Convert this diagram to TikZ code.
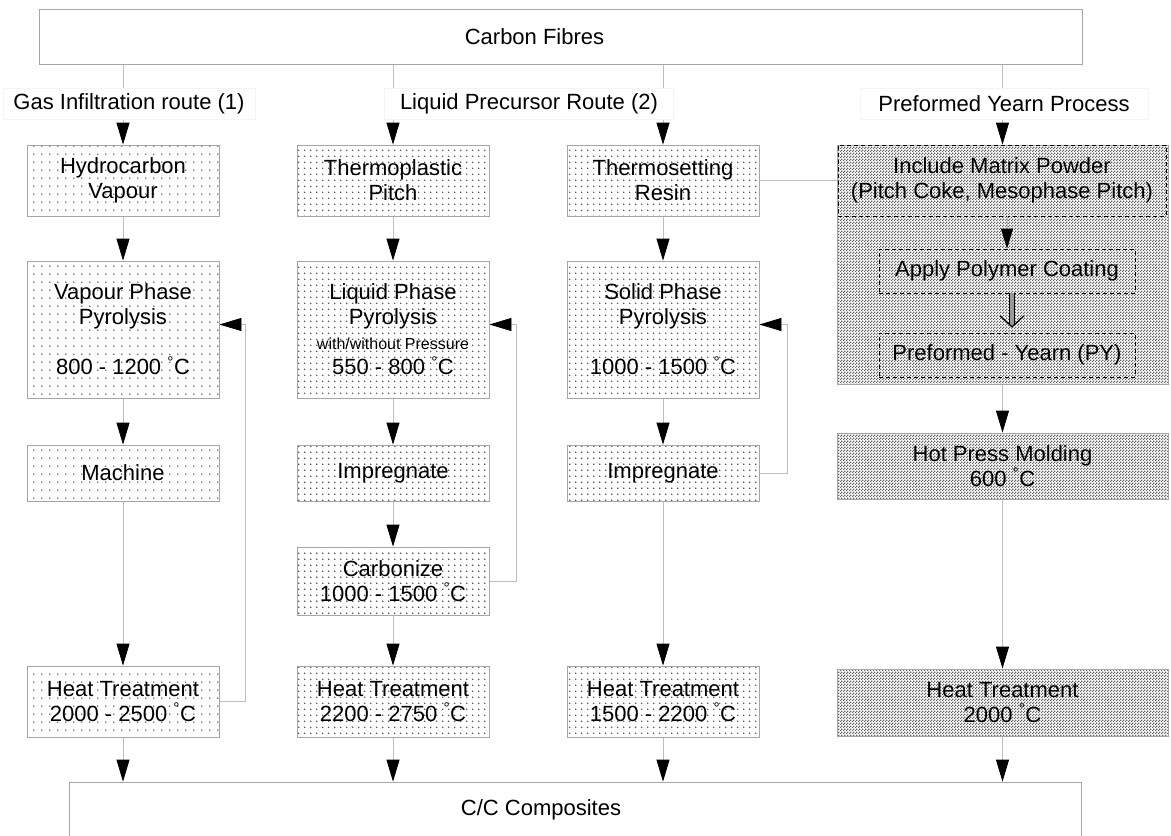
\documentclass[tikz,border=0pt]{standalone}
\usepackage{fontspec}
\setmainfont{Liberation Sans}
\usetikzlibrary{arrows.meta,backgrounds,patterns}
\definecolor{FlowLine}{HTML}{BEBEBE}
\definecolor{BoxEdge}{HTML}{A6A6A6}
\definecolor{DotGrey}{HTML}{505050}
\definecolor{MeshGrey}{HTML}{606060}
\newcommand{\mainsize}{\fontsize{22}{25}\selectfont}
\newcommand{\smallsize}{\fontsize{16}{18}\selectfont}
\newcommand{\degC}{\textsuperscript{°}C}
% dot fills for the three routes and the yarn process
\pgfdeclarepatternformonly{sparsedots}{\pgfqpoint{0pt}{0pt}}{\pgfqpoint{8pt}{8pt}}{\pgfqpoint{8pt}{8pt}}{%
  \pgfpathcircle{\pgfqpoint{2pt}{2pt}}{0.85pt}\pgfusepath{fill}}
\pgfdeclarepatternformonly{griddots}{\pgfqpoint{0pt}{0pt}}{\pgfqpoint{6.3pt}{6.3pt}}{\pgfqpoint{6.3pt}{6.3pt}}{%
  \pgfpathcircle{\pgfqpoint{3pt}{3pt}}{0.9pt}\pgfusepath{fill}}
\pgfdeclarepatternformonly{meshdots}{\pgfqpoint{0pt}{0pt}}{\pgfqpoint{3pt}{3pt}}{\pgfqpoint{3pt}{3pt}}{%
  \pgfpathrectangle{\pgfqpoint{0pt}{0pt}}{\pgfqpoint{1.5pt}{1.5pt}}
  \pgfpathrectangle{\pgfqpoint{1.5pt}{1.5pt}}{\pgfqpoint{1.5pt}{1.5pt}}\pgfusepath{fill}}
\tikzset{
  flowarrow/.style={-{Triangle[length=22pt,width=13pt,color=black]},line width=0.8pt,draw=FlowLine},
  minorarrow/.style={-{Triangle[length=20pt,width=12pt,color=black]},line width=0.8pt,draw=FlowLine},
  implyshaft/.style={double=black!40,double distance=4.5pt,line width=1pt,draw=black},
  implyhead/.style={line width=1.2pt,draw=black,-{Straight Barb[length=11pt,width=24pt]}},
  link/.style={line width=0.8pt,draw=FlowLine},
  bar/.style={draw=BoxEdge,line width=0.8pt,fill=white,inner sep=0pt},
  bartext/.style={font=\mainsize},
  routelabel/.style={fill=white,draw=black!4,line width=0.5pt,minimum height=31pt,inner sep=2pt,font=\mainsize},
  gasbox/.style={draw=BoxEdge,line width=0.8pt,pattern=sparsedots,pattern color=DotGrey,
    align=center,minimum width=192pt,inner sep=2pt,font=\mainsize},
  liquidbox/.style={gasbox,pattern=griddots},
  yarnbox/.style={draw=BoxEdge,line width=0.8pt,pattern=meshdots,pattern color=MeshGrey,
    align=center,minimum width=331pt,inner sep=2pt,font=\mainsize},
  yarnstage/.style={draw=black,line width=0.7pt,dash pattern=on 4pt off 3pt,
    align=center,inner sep=2pt,font=\mainsize}
}
\begin{document}
\begin{tikzpicture}[x=1pt,y=-1pt]
  \useasboundingbox (0,0) rectangle (1171,836);

  \node[bar,minimum width=1043pt,minimum height=55pt,
    label={[bartext,xshift=-26pt]center:Carbon Fibres}] (cf) at (560.5,36.7) {};

  % gas infiltration route
  \node[gasbox,minimum height=71pt] (hydro) at (123,180.5) {Hydrocarbon\\Vapour};
  \node[gasbox,minimum height=137pt] (vapour) at (123,329.5)
    {Vapour Phase\\Pyrolysis\\[25pt]800 - 1200 \degC};
  \node[gasbox,minimum height=56pt] (machine) at (123,473) {Machine};
  \node[gasbox,minimum height=71pt] (heat1) at (123,701.5)
    {Heat Treatment\\2000 - 2500 \degC};

  % liquid precursor route, pitch
  \node[liquidbox,minimum height=71pt] (pitch) at (393,180.5) {Thermoplastic\\Pitch};
  \node[liquidbox,minimum height=137pt] (liquid) at (393,329.5)
    {Liquid Phase\\Pyrolysis\\{\smallsize with/without Pressure}\\550 - 800 \degC};
  \node[liquidbox,minimum height=56pt] (imp2) at (393,473) {Impregnate};
  \node[liquidbox,minimum height=68pt] (carb) at (393,581)
    {Carbonize\\1000 - 1500 \degC};
  \node[liquidbox,minimum height=71pt] (heat2) at (393,701.5)
    {Heat Treatment\\2200 - 2750 \degC};

  % liquid precursor route, resin
  \node[liquidbox,minimum height=71pt] (resin) at (663,180.5) {Thermosetting\\Resin};
  \node[liquidbox,minimum height=137pt] (solid) at (663,329.5)
    {Solid Phase\\Pyrolysis\\[25pt]1000 - 1500 \degC};
  \node[liquidbox,minimum height=56pt] (imp3) at (663,473) {Impregnate};
  \node[liquidbox,minimum height=71pt] (heat3) at (663,701.5)
    {Heat Treatment\\1500 - 2200 \degC};

  % preformed yarn process
  \node[yarnbox,minimum height=239pt] (pyblock) at (1002.5,264.5) {};
  \node[yarnstage,minimum width=328pt,minimum height=71pt] (include) at (1002,180.5)
    {Include Matrix Powder\\(Pitch Coke, Mesophase Pitch)};
  \node[yarnstage,minimum width=256pt,minimum height=44pt] (apply) at (1007,271)
    {Apply Polymer Coating};
  \node[yarnstage,minimum width=256pt,minimum height=44pt] (py) at (1007,355)
    {Preformed - Yearn (PY)};
  \node[yarnbox,minimum height=66pt] (hot) at (1002.5,466) {Hot Press Molding\\600 \degC};
  \node[yarnbox,minimum height=67pt] (heat4) at (1002.5,702.5) {Heat Treatment\\2000 \degC};

  \node[bar,minimum width=1012pt,minimum height=80pt,
    label={[bartext,xshift=-34pt,yshift=12pt]center:C/C Composites}] (cc) at (575,822) {};

  \begin{scope}[on background layer]
    \foreach \first in {hydro,pitch,resin,pyblock}
      \draw[flowarrow] (cf.south -| \first.north) -- (\first.north);
    \draw[flowarrow] (hydro) -- (vapour);
    \draw[flowarrow] (vapour) -- (machine);
    \draw[flowarrow] (machine) -- (heat1);
    \draw[flowarrow] (pitch) -- (liquid);
    \draw[flowarrow] (liquid) -- (imp2);
    \draw[flowarrow] (imp2) -- (carb);
    \draw[flowarrow] (carb) -- (heat2);
    \draw[flowarrow] (resin) -- (solid);
    \draw[flowarrow] (solid) -- (imp3);
    \draw[flowarrow] (imp3) -- (heat3);
    \draw[flowarrow] (pyblock) -- (hot);
    \draw[flowarrow] (hot) -- (heat4);
    \foreach \last in {heat1,heat2,heat3,heat4}
      \draw[flowarrow] (\last.south) -- (\last.south |- cc.north);
    % recycling loops
    \draw[flowarrow] (heat1.east) -- ++(26,0) |- ([yshift=5pt]vapour.east);
    \draw[flowarrow] (carb.east) -- ++(27,0) |- ([yshift=5pt]liquid.east);
    \draw[flowarrow] (imp3.east) -- ++(28,0) |- ([yshift=5pt]solid.east);
    \draw[link] (resin.east) -- (resin.east -| pyblock.west);
  \end{scope}
  \draw[minorarrow] (apply.north |- include.south) -- (apply.north);
  \draw[implyshaft] ([xshift=5pt]apply.south) -- ([xshift=5pt,yshift=8pt]py.north);
  \draw[implyhead] ([xshift=5pt,yshift=6pt]py.north) -- ([xshift=5pt,yshift=5pt]py.north);

  \node[routelabel,minimum width=252pt] (gasroute) at (129,103.5) {Gas Infiltration route (1)};
  \node[routelabel,minimum width=289pt] (liquidroute) at (529,103.5) {Liquid Precursor Route (2)};
  \node[routelabel,minimum width=288pt] (yarnroute) at (1004,103.5) {Preformed Yearn Process};
\end{tikzpicture}
\end{document}
